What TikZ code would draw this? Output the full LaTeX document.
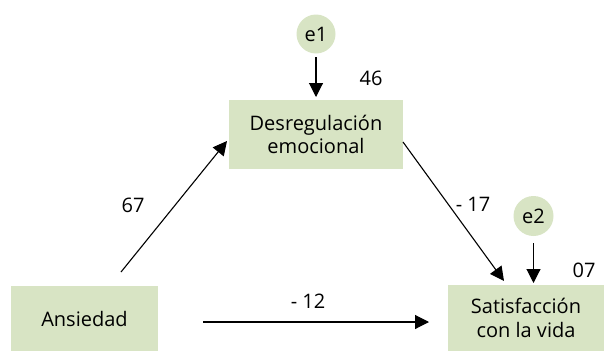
\documentclass[tikz,border=0pt]{standalone}
\usepackage{fontspec}
\setmainfont{Open Sans}
\usetikzlibrary{arrows.meta}
\definecolor{boxgreen}{HTML}{D8E4C4}
\begin{document}
\begin{tikzpicture}[x=1pt,y=-1pt,
  every node/.style={font=\fontsize{20}{23.5}\selectfont, text=black, inner sep=0pt},
  varbox/.style={fill=boxgreen, draw=none, align=center},
  errc/.style={circle, fill=boxgreen, minimum size=39pt},
  conn/.style={line width=1.1pt, -{Triangle[length=14pt,width=14pt]}},
  lbl/.style={}
]
\useasboundingbox (0,0) rectangle (604,351);
\node[errc] (e1) at (316,34) {e1};
\node[varbox, minimum width=174pt, minimum height=69pt] (des) at (316,134.5) {Desregulación\\emocional};
\node[varbox, minimum width=147pt, minimum height=65pt] (ans) at (84.5,318.5) {Ansiedad};
\node[varbox, minimum width=156pt, minimum height=66pt] (sat) at (526,318) {Satisfacción\\con la vida};
\node[errc, minimum size=40pt] (e2) at (533.5,216) {e2};

\coordinate (e1s) at (316,57);
\coordinate (e1t) at (316,97);
\coordinate (as) at (121,272);
\coordinate (at) at (227,141);
\coordinate (ds) at (403,142);
\coordinate (dt) at (504,281);
\coordinate (e2s) at (533.5,243);
\coordinate (e2t) at (533.5,283);
\coordinate (hs) at (203,322);
\coordinate (ht) at (429,322);

\draw[conn] (e1s) -- (e1t);
\draw[conn] (as) -- (at);
\draw[conn] (ds) -- (dt);
\draw[conn] (e2s) -- (e2t);
\draw[conn] (hs) -- (ht);

\node[lbl] (l46) at (371,78) {46};
\node[lbl] (l67) at (133,205) {67};
\node[lbl] (l17) at (473,204) {- 17};
\node[lbl] (l12) at (308,301) {- 12};
\node[lbl] (l07) at (584,270) {07};
\end{tikzpicture}
\end{document}
